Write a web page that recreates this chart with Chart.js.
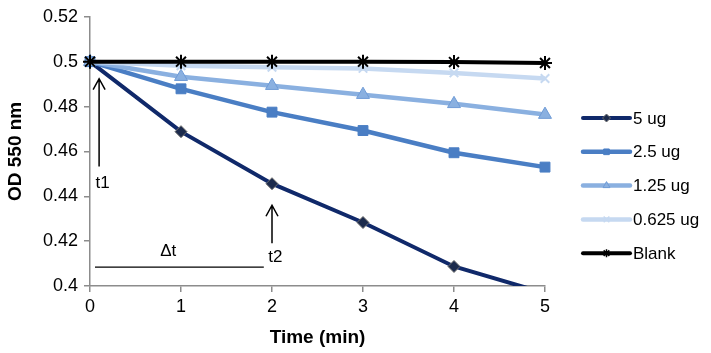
<!DOCTYPE html>
<html>
<head>
<meta charset="utf-8">
<script src="https://cdn.jsdelivr.net/npm/chart.js@4"></script>
<style>
  html, body { margin: 0; padding: 0; background: #fff; }
  #wrap { width: 711px; height: 353px; }
</style>
</head>
<body>
<div id="wrap"><canvas id="odChart"></canvas></div>
<script>
// time points (min)
var times = [0, 1, 2, 3, 4, 5];

// OD 550 nm readings per enzyme amount
var od5ug    = [0.5, 0.4688, 0.4456, 0.4283, 0.4087, 0.3968];
var od2_5ug  = [0.5, 0.4879, 0.4775, 0.4693, 0.4594, 0.4530];
var od1_25ug = [0.5, 0.4933, 0.4893, 0.4853, 0.4812, 0.4764];
var od0_625  = [0.5, 0.4982, 0.4975, 0.4970, 0.4950, 0.4925];
var odBlank  = [0.5, 0.5, 0.5, 0.5, 0.4998, 0.4994];

var seriesNames = ['5 ug', '2.5 ug', '1.25 ug', '0.625 ug', 'Blank'];
var yTicks = [0.4, 0.42, 0.44, 0.46, 0.48, 0.5, 0.52];

// annotation arrows (x, yFrom, yTo) and the Δt bar, in data units
var arrowT1 = [0.1, 0.4533, 0.4924];
var arrowT2 = [2, 0.4191, 0.436];
var deltaBar = [0.055, 1.91, 0.4084];

function pts(vals) {
  return vals.map(function(v, i) { return { x: times[i], y: v }; });
}

var FONT = 'Liberation Sans, Arial, sans-serif';

var styles = [
  { color: '#10296a', point: 'rectRot', radius: 6, pointBg: '#1c2b4d', pointBorder: '#6b6b6b', width: 4 },
  { color: '#4a7ec4', point: 'rect', radius: 7, pointBg: '#4a7ec4', pointBorder: '#4a7ec4', width: 4.5 },
  { color: '#8ab0e0', point: 'triangle', radius: 7.5, pointBg: '#8ab0e0', pointBorder: '#6f9bd6', width: 4.5 },
  { color: '#c6d9f1', point: 'crossRot', radius: 6, pointBg: '#c6d9f1', pointBorder: '#c6d9f1', width: 4.5 },
  { color: '#000000', point: 'star', radius: 7, pointBg: '#000', pointBorder: '#000', width: 4 }
];

var allData = [od5ug, od2_5ug, od1_25ug, od0_625, odBlank];

var datasets = allData.map(function(vals, i) {
  var s = styles[i];
  return {
    label: seriesNames[i],
    data: pts(vals),
    borderColor: s.color,
    borderWidth: s.width,
    backgroundColor: s.pointBg,
    pointStyle: s.point,
    pointRadius: s.radius,
    pointBackgroundColor: s.pointBg,
    pointBorderColor: s.pointBorder,
    pointBorderWidth: (s.point === 'crossRot' || s.point === 'star') ? 2 : 1,
    tension: 0,
    clip: i === 0 ? { left: 10, top: 10, right: 10, bottom: 0 } : false
  };
}).reverse(); // blank on top, like the original drawing order

// legend + annotations drawn by hand
var extras = {
  id: 'extras',
  afterDraw: function(chart) {
    var ctx = chart.ctx;
    var xs = chart.scales.x, ys = chart.scales.y;

    function arrow(a) {
      var px = xs.getPixelForValue(a[0]);
      var y0 = ys.getPixelForValue(a[1]);
      var y1 = ys.getPixelForValue(a[2]);
      ctx.save();
      ctx.strokeStyle = '#000';
      ctx.lineWidth = 1.5;
      ctx.beginPath();
      ctx.moveTo(px, y0); ctx.lineTo(px, y1);
      ctx.moveTo(px - 6, y1 + 11); ctx.lineTo(px, y1); ctx.lineTo(px + 6, y1 + 11);
      ctx.stroke();
      ctx.restore();
    }
    arrow(arrowT1);
    arrow(arrowT2);

    ctx.save();
    ctx.strokeStyle = '#000';
    ctx.lineWidth = 1.3;
    ctx.beginPath();
    var by = ys.getPixelForValue(deltaBar[2]);
    ctx.moveTo(xs.getPixelForValue(deltaBar[0]), by);
    ctx.lineTo(xs.getPixelForValue(deltaBar[1]), by);
    ctx.stroke();

    ctx.fillStyle = '#000';
    ctx.font = '17px ' + FONT;
    ctx.textBaseline = 'middle';
    ctx.textAlign = 'left';
    ctx.fillText('t1', xs.getPixelForValue(0.06), ys.getPixelForValue(0.4458));
    ctx.fillText('t2', xs.getPixelForValue(1.96), ys.getPixelForValue(0.4128));
    ctx.textAlign = 'center';
    ctx.fillText('\u0394t', xs.getPixelForValue(0.86), ys.getPixelForValue(0.4155));
    ctx.restore();

    // legend
    var lx = chart.chartArea.right + 38;
    var ly = 118, step = 33.8;
    for (var i = 0; i < seriesNames.length; i++) {
      var s = styles[i];
      var y = ly + i * step;
      ctx.save();
      ctx.strokeStyle = s.color;
      ctx.lineWidth = s.width;
      ctx.lineCap = 'round';
      ctx.beginPath();
      ctx.moveTo(lx, y); ctx.lineTo(lx + 47, y);
      ctx.stroke();
      ctx.restore();
      ctx.save();
      ctx.fillStyle = s.pointBg;
      ctx.strokeStyle = s.pointBorder;
      ctx.lineWidth = (s.point === 'crossRot' || s.point === 'star') ? 1.5 : 1;
      Chart.helpers.drawPoint(ctx, { pointStyle: s.point, radius: 4, borderWidth: ctx.lineWidth }, lx + 23.5, y);
      ctx.fillStyle = '#000';
      ctx.font = '17px ' + FONT;
      ctx.textBaseline = 'middle';
      ctx.textAlign = 'left';
      ctx.fillText(seriesNames[i], lx + 50, y + 1);
      ctx.restore();
    }
  }
};

var ctx = document.getElementById('odChart').getContext('2d');
var odChart = new Chart(ctx, {
  type: 'line',
  data: { datasets: datasets },
  options: {
    responsive: true,
    maintainAspectRatio: false,
    animation: false,
    layout: { padding: { top: 16, right: 166, left: 0, bottom: 0 } },
    plugins: { legend: { display: false }, tooltip: { enabled: false } },
    scales: {
      x: {
        type: 'linear',
        min: 0, max: 5,
        afterFit: function(scale) { scale.height = 67; },
        afterBuildTicks: function(scale) {
          scale.ticks = times.map(function(t) { return { value: t }; });
        },
        grid: { drawOnChartArea: false, drawTicks: true, tickLength: 6, color: '#8c8c8c', lineWidth: 1.5 },
        border: { color: '#8c8c8c', width: 1.5 },
        ticks: { color: '#000', font: { family: FONT, size: 18 }, padding: 4 },
        title: { display: true, text: 'Time (min)', color: '#000', font: { family: FONT, size: 19, weight: 'bold' }, padding: { top: 2 } }
      },
      y: {
        min: 0.4, max: 0.52,
        afterFit: function(scale) { scale.width = 90; },
        afterBuildTicks: function(scale) {
          scale.ticks = yTicks.map(function(t) { return { value: t }; });
        },
        grid: { drawOnChartArea: false, drawTicks: true, tickLength: 6, color: '#8c8c8c', lineWidth: 1.5 },
        border: { color: '#8c8c8c', width: 1.5 },
        ticks: {
          color: '#000', font: { family: FONT, size: 18 }, padding: 6,
          callback: function(v) { return String(+v.toFixed(2)); }
        },
        title: { display: true, text: 'OD 550 nm', color: '#000', font: { family: FONT, size: 19, weight: 'bold' }, padding: { bottom: 0 } }
      }
    }
  },
  plugins: [extras]
});
</script>
</body>
</html>
